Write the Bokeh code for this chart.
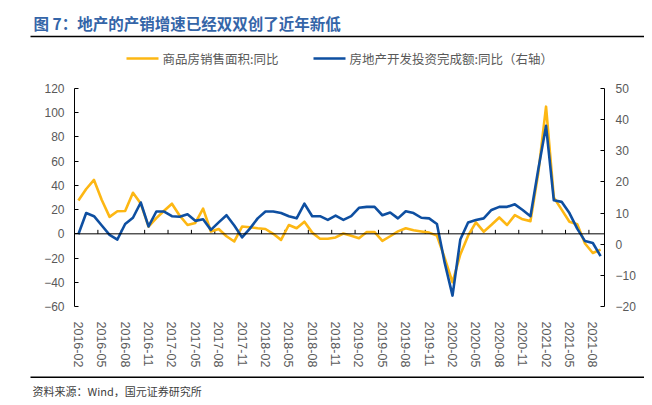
import pandas as pd
from bokeh.plotting import figure
from bokeh.layouts import column
from bokeh.models import Range1d, LinearAxis, FixedTicker, Span
from bokeh.core.properties import value
from bokeh.embed import file_html
from bokeh.resources import INLINE

# ---------------- data ----------------
months = [d.strftime("%Y-%m") for d in pd.date_range("2016-02-01", "2021-09-01", freq="MS")]

# 商品房销售面积:同比 (left axis, %)
sales = [27.6, 37, 44.5, 28, 14, 18.6, 18.8, 33.9, 25, 6,
         13, 19, 24.9, 15, 7.3, 9, 20.8, 1.9, 4, -2,
         -6.3, 6, 5.5, 4.6, 4, 0, -5, 7.3, 4.6, 10,
         1, -4, -4, -3, 0.3, -1.5, -3.6, 1.5, 1.5, -5.8,
         -2, 2, 4.6, 3, 2, 1, -1.5, -20, -40, -17,
         -1.5, 9.4, 1.8, 7.5, 13.5, 7.3, 15.4, 12, 10.5, 50,
         105, 30, 20, 10, 8, -8, -15.8, -13]

# 房地产开发投资完成额:同比 (right axis, %)
invest = [3.2, 10, 9, 6, 3, 1.5, 6.5, 8.5, 13.4, 5.7,
          10.5, 10.5, 9, 8.8, 9.6, 7.5, 8, 4.6, 7, 9.3,
          6, 2.2, 5, 8.3, 10.5, 10.5, 10, 9, 8.3, 13,
          9, 9, 7.8, 9.2, 7.8, 9, 11.7, 12, 12, 9.3,
          10.2, 8.3, 10.6, 10, 8.5, 8.3, 6.5, -6, -16.5, 1.5,
          7, 7.8, 8.3, 11, 12, 12, 12.8, 11, 9, 24,
          38, 14.1, 13.6, 10, 5, 1, 0.4, -3.8]

left_ticks = [-60, -40, -20, 0, 20, 40, 60, 80, 100, 120]
right_ticks = [-20, -10, 0, 10, 20, 30, 40, 50]

title_text = "图 7：地产的产销增速已经双双创了近年新低"
sales_name = "商品房销售面积:同比"
invest_name = "房地产开发投资完成额:同比（右轴）"
source_text = "资料来源：Wind，国元证券研究所"

ORANGE = "#FDB713"
BLUE = "#0E4FA1"
GRAY = "#595959"
CJK = "Noto Sans CJK SC"
LAT = "Liberation Sans"
W = 644


def blank(height):
    f = figure(width=W, height=height, output_backend="svg", toolbar_location=None,
               x_range=Range1d(0, W), y_range=Range1d(height, 0),
               min_border=0, x_axis_location=None, y_axis_location=None)
    f.outline_line_color = None
    f.grid.visible = False
    f.background_fill_color = "white"
    f.border_fill_color = "white"
    f.frame_align = False
    return f


# ---------------- header: title, rule, legend ----------------
hdr = blank(80)
hdr.text(x=[33], y=[22], text=[title_text], text_font=value(CJK), text_font_size="15.5px",
         text_font_style="bold", text_color="#3465A8", text_baseline="middle")
hdr.segment(x0=[30], y0=[36], x1=[W], y1=[36], line_color="black", line_width=1.5)
hdr.segment(x0=[126], y0=[58], x1=[158], y1=[58], line_color=ORANGE, line_width=2.6)
hdr.text(x=[162], y=[58], text=[sales_name], text_font=value(CJK), text_font_size="12.5px",
         text_color=GRAY, text_baseline="middle")
hdr.segment(x0=[313], y0=[58], x1=[345], y1=[58], line_color=BLUE, line_width=2.6)
hdr.text(x=[349], y=[58], text=[invest_name], text_font=value(CJK), text_font_size="12.5px",
         text_color=GRAY, text_baseline="middle")

# ---------------- main chart ----------------
xs = list(range(len(months)))
p = figure(width=W, height=290, output_backend="svg", toolbar_location=None,
           x_range=Range1d(-0.5, len(months) - 0.5),
           y_range=Range1d(left_ticks[0], left_ticks[-1]),
           min_border_left=74, min_border_right=40, min_border_top=8, min_border_bottom=61)
p.frame_align = False
p.extra_y_ranges = {"right": Range1d(right_ticks[0], right_ticks[-1])}
p.outline_line_color = None
p.xgrid.visible = False
p.ygrid.visible = False
p.background_fill_color = "white"
p.border_fill_color = "white"

ya = p.yaxis[0]
ya.ticker = FixedTicker(ticks=left_ticks)
ra = LinearAxis(y_range_name="right", ticker=FixedTicker(ticks=right_ticks))
p.add_layout(ra, "right")
for ax, so in ((ya, 10), (ra, 11)):
    ax.major_tick_in = 4
    ax.major_tick_out = 0
    ax.minor_tick_line_color = None
    ax.axis_line_color = "black"
    ax.major_tick_line_color = "black"
    ax.major_label_text_font = LAT
    ax.major_label_text_font_size = "12px"
    ax.major_label_text_color = GRAY
    ax.major_label_standoff = so

xa = p.xaxis[0]
label_idx = list(range(0, len(months), 3))
xa.ticker = FixedTicker(ticks=label_idx)
xa.major_label_overrides = {i: months[i] for i in label_idx}
xa.major_label_orientation = "vertical"
xa.axis_line_color = None
xa.major_tick_line_color = None
xa.minor_tick_line_color = None
xa.major_label_text_font = LAT
xa.major_label_text_font_size = "12.5px"
xa.major_label_text_color = GRAY
xa.major_label_standoff = 9

# zero line with ticks at category-group boundaries
p.add_layout(Span(location=0, dimension="width", line_color="black", line_width=1))
bounds = [i + 2.5 for i in range(0, len(months) - 3, 3)]
p.segment(x0=bounds, y0=[0] * len(bounds), x1=bounds, y1=[3.3] * len(bounds),
          line_color="black", line_width=1)

p.line(xs, sales, line_color=ORANGE, line_width=2.6, line_join="round")
p.line(xs, invest, y_range_name="right", line_color=BLUE, line_width=2.6, line_join="round")

# ---------------- footer: rule, source ----------------
ftr = blank(27)
ftr.segment(x0=[30], y0=[6.7], x1=[W], y1=[6.7], line_color="black", line_width=1.5)
ftr.text(x=[32], y=[20], text=[source_text], text_font=value(CJK), text_font_size="11px",
         text_color="#404040", text_baseline="middle")

layout = column(hdr, p, ftr, spacing=0)
open("out.html", "w").write(file_html(layout, INLINE))
